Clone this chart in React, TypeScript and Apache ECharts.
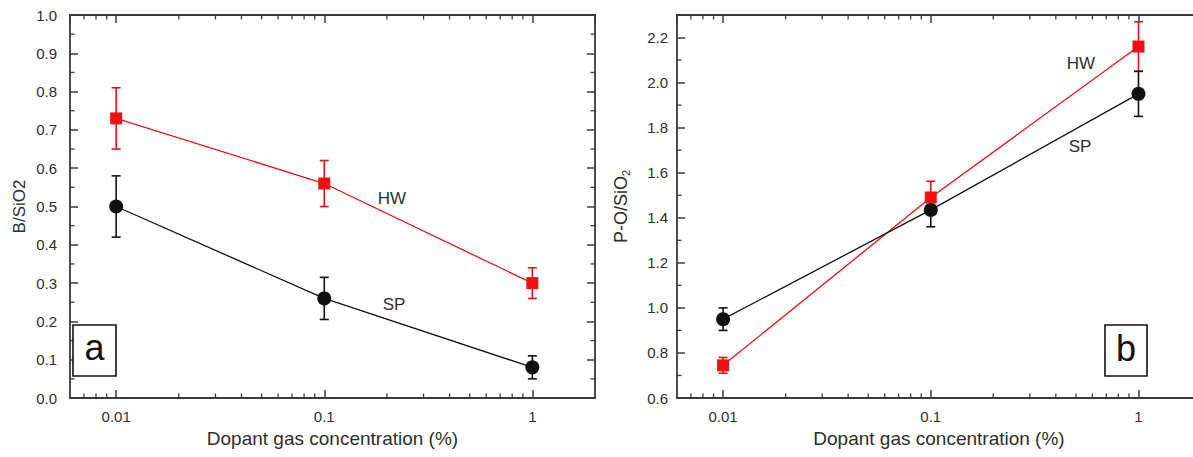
import React, { useEffect, useRef } from 'react';
import * as echarts from 'echarts';

// ---------- data ----------
const concentrations = [0.01, 0.1, 1];

const hwBoron = [0.73, 0.56, 0.3];
const hwBoronErr = [0.08, 0.06, 0.04];
const spBoron = [0.5, 0.26, 0.08];
const spBoronErr = [0.08, 0.055, 0.03];

const hwPO = [0.745, 1.49, 2.16];
const hwPOErr = [0.035, 0.072, 0.11];
const spPO = [0.95, 1.435, 1.95];
const spPOErr = [0.05, 0.075, 0.1];

const xMinorTicks = [
  0.007, 0.008, 0.009,
  0.02, 0.03, 0.04, 0.05, 0.06, 0.07, 0.08, 0.09,
  0.2, 0.3, 0.4, 0.5, 0.6, 0.7, 0.8, 0.9,
];
const leftYMinorTicks = [0.05, 0.15, 0.25, 0.35, 0.45, 0.55, 0.65, 0.75, 0.85, 0.95];
const rightYMinorTicks = [0.7, 0.9, 1.1, 1.3, 1.5, 1.7, 1.9, 2.1];

const X_MIN = 0.006;
const X_MAX = 2;
const LEFT_Y = [0, 1];
const RIGHT_Y = [0.6, 2.3];

const xAxisTitle = 'Dopant gas concentration (%)';
const leftYTitle = 'B/SiO2';

// ---------- styles ----------
const AXIS_COLOR = '#3a3a3a';
const TEXT_COLOR = '#2e2e2e';
const RED = '#f01010';
const BLACK = '#111111';
const FONT = '"Liberation Sans", Arial, Helvetica, sans-serif';

function makeXAxis(gridIndex: number, position: 'bottom' | 'top', main: boolean) {
  return {
    type: 'log',
    logBase: 10,
    gridIndex,
    position,
    min: X_MIN,
    max: X_MAX,
    axisLine: { show: true, onZero: false, lineStyle: { color: AXIS_COLOR, width: 1.8 } },
    axisTick: { show: true, inside: true, length: 8, lineStyle: { color: AXIS_COLOR, width: 1.5 } },
    axisLabel: {
      show: main,
      margin: 11,
      color: TEXT_COLOR,
      fontSize: 15,
      fontFamily: FONT,
      showMinLabel: false,
      showMaxLabel: false,
      formatter: (v: number) => String(parseFloat(Number(v).toPrecision(3))),
    },
    splitLine: { show: false },
    name: main ? xAxisTitle : '',
    nameLocation: 'middle',
    nameGap: 25,
    nameTextStyle: { color: TEXT_COLOR, fontSize: 19, fontFamily: FONT },
  };
}

function makeYAxis(
  gridIndex: number,
  position: 'left' | 'right',
  range: number[],
  interval: number,
  main: boolean,
  name: string,
  labelMargin: number,
  nameGap: number,
  rich?: any,
) {
  return {
    type: 'value',
    gridIndex,
    position,
    min: range[0],
    max: range[1],
    interval,
    axisLine: { show: true, onZero: false, lineStyle: { color: AXIS_COLOR, width: 1.8 } },
    axisTick: { show: true, inside: true, length: 8, lineStyle: { color: AXIS_COLOR, width: 1.5 } },
    axisLabel: {
      show: main,
      margin: labelMargin,
      color: TEXT_COLOR,
      fontSize: 15,
      fontFamily: FONT,
      showMaxLabel: range[1] === 1,
      formatter: (v: number) => Number(v).toFixed(1),
    },
    splitLine: { show: false },
    name: main ? name : '',
    nameLocation: 'middle',
    nameGap,
    nameTextStyle: { color: TEXT_COLOR, fontSize: 17, fontFamily: FONT, rich },
  };
}

function errorBarSeries(xIdx: number, yIdx: number, values: number[], errs: number[], color: string) {
  return {
    type: 'custom',
    xAxisIndex: xIdx,
    yAxisIndex: yIdx,
    z: 1,
    silent: true,
    encode: { x: 0, y: [1, 2] },
    data: concentrations.map((c, i) => [c, values[i] - errs[i], values[i] + errs[i]]),
    renderItem: (_p: any, api: any) => {
      const x = api.value(0);
      const lo = api.coord([x, api.value(1)]);
      const hi = api.coord([x, api.value(2)]);
      const w = 4.5;
      const style = { stroke: color, lineWidth: 1.6 };
      return {
        type: 'group',
        children: [
          { type: 'line', shape: { x1: lo[0], y1: lo[1], x2: hi[0], y2: hi[1] }, style },
          { type: 'line', shape: { x1: lo[0] - w, y1: lo[1], x2: lo[0] + w, y2: lo[1] }, style },
          { type: 'line', shape: { x1: hi[0] - w, y1: hi[1], x2: hi[0] + w, y2: hi[1] }, style },
        ],
      };
    },
  };
}

function lineSeries(
  xIdx: number,
  yIdx: number,
  name: string,
  values: number[],
  color: string,
  symbol: string,
  size: number,
) {
  return {
    type: 'line',
    name,
    xAxisIndex: xIdx,
    yAxisIndex: yIdx,
    z: 3,
    data: concentrations.map((c, i) => [c, values[i]]),
    symbol,
    symbolSize: size,
    showAllSymbol: true,
    itemStyle: { color, borderWidth: 0 },
    lineStyle: { color, width: 1.3 },
  };
}

function xMinorSeries(xIdx: number, yIdx: number, yRange: number[]) {
  return {
    type: 'custom',
    xAxisIndex: xIdx,
    yAxisIndex: yIdx,
    z: 1,
    silent: true,
    data: xMinorTicks.map((v) => [v, yRange[0]]),
    renderItem: (_p: any, api: any) => {
      const x = api.value(0);
      const b = api.coord([x, yRange[0]]);
      const t = api.coord([x, yRange[1]]);
      const style = { stroke: AXIS_COLOR, lineWidth: 1.3 };
      return {
        type: 'group',
        children: [
          { type: 'line', shape: { x1: b[0], y1: b[1], x2: b[0], y2: b[1] - 4.5 }, style },
          { type: 'line', shape: { x1: t[0], y1: t[1], x2: t[0], y2: t[1] + 4.5 }, style },
        ],
      };
    },
  };
}

function yMinorSeries(xIdx: number, yIdx: number, ticks: number[]) {
  return {
    type: 'custom',
    xAxisIndex: xIdx,
    yAxisIndex: yIdx,
    z: 1,
    silent: true,
    data: ticks.map((v) => [X_MIN, v]),
    renderItem: (_p: any, api: any) => {
      const y = api.value(1);
      const l = api.coord([X_MIN, y]);
      const r = api.coord([X_MAX, y]);
      const style = { stroke: AXIS_COLOR, lineWidth: 1.3 };
      return {
        type: 'group',
        children: [
          { type: 'line', shape: { x1: l[0], y1: l[1], x2: l[0] + 4.5, y2: l[1] }, style },
          { type: 'line', shape: { x1: r[0], y1: r[1], x2: r[0] - 4.5, y2: r[1] }, style },
        ],
      };
    },
  };
}

function textLabel(text: string, x: number, y: number, fontSize: number) {
  return {
    type: 'text',
    x,
    y,
    z: 10,
    style: {
      text,
      fill: TEXT_COLOR,
      fontSize,
      fontFamily: FONT,
      align: 'center',
      verticalAlign: 'middle',
    },
  };
}

function boxLabel(text: string, x: number, y: number, w: number, h: number, ty: number) {
  return [
    {
      type: 'rect',
      z: 10,
      shape: { x, y, width: w, height: h },
      style: { fill: '#ffffff', stroke: '#111111', lineWidth: 1.6 },
    },
    {
      type: 'text',
      z: 11,
      x: x + w / 2,
      y: ty,
      style: {
        text,
        fill: '#111111',
        fontSize: 36,
        fontFamily: FONT,
        align: 'center',
        verticalAlign: 'middle',
      },
    },
  ];
}

export default function App() {
  const ref = useRef<HTMLDivElement>(null);

  useEffect(() => {
    if (!ref.current) return;
    const chart = echarts.init(ref.current, undefined, { renderer: 'svg' });
    const option: any = {
      animation: false,
      backgroundColor: '#ffffff',
      grid: [
        { left: 70, top: 15, width: 525, height: 383, containLabel: false },
        { left: 677, top: 15, width: 524, height: 383, containLabel: false },
      ],
      xAxis: [
        makeXAxis(0, 'bottom', true),
        makeXAxis(0, 'top', false),
        makeXAxis(1, 'bottom', true),
        makeXAxis(1, 'top', false),
      ],
      yAxis: [
        makeYAxis(0, 'left', LEFT_Y, 0.1, true, leftYTitle, 13, 42),
        makeYAxis(0, 'right', LEFT_Y, 0.1, false, '', 13, 40),
        makeYAxis(1, 'left', RIGHT_Y, 0.2, true, '{a|P-O/SiO}{s|2}', 9, 46, {
          a: { fontSize: 18, fontFamily: FONT, color: TEXT_COLOR },
          s: { fontSize: 11, fontFamily: FONT, color: TEXT_COLOR, padding: [9, 0, 0, 0] },
        }),
        makeYAxis(1, 'right', RIGHT_Y, 0.2, false, '', 9, 40),
      ],
      series: [
        xMinorSeries(0, 0, LEFT_Y),
        yMinorSeries(0, 0, leftYMinorTicks),
        xMinorSeries(2, 2, RIGHT_Y),
        yMinorSeries(2, 2, rightYMinorTicks),
        errorBarSeries(0, 0, hwBoron, hwBoronErr, RED),
        errorBarSeries(0, 0, spBoron, spBoronErr, BLACK),
        lineSeries(0, 0, 'HW', hwBoron, RED, 'rect', 12),
        lineSeries(0, 0, 'SP', spBoron, BLACK, 'circle', 14),
        errorBarSeries(2, 2, hwPO, hwPOErr, RED),
        errorBarSeries(2, 2, spPO, spPOErr, BLACK),
        lineSeries(2, 2, 'HW', hwPO, RED, 'rect', 12),
        lineSeries(2, 2, 'SP', spPO, BLACK, 'circle', 14),
      ],
      graphic: [
        textLabel('HW', 392, 198, 17),
        textLabel('SP', 394, 304, 17),
        textLabel('HW', 1081, 63, 17),
        textLabel('SP', 1080, 146, 17),
        ...boxLabel('a', 73, 325, 43, 51, 347),
        ...boxLabel('b', 1105, 325, 42, 51, 348),
      ],
    };
    chart.setOption(option);
    return () => chart.dispose();
  }, []);

  return (
    <div
      style={{
        position: 'fixed',
        left: 0,
        top: 0,
        width: 1193,
        height: 457,
        overflow: 'hidden',
        background: '#ffffff',
      }}
    >
      <div ref={ref} style={{ width: 1212, height: 457 }} />
    </div>
  );
}
